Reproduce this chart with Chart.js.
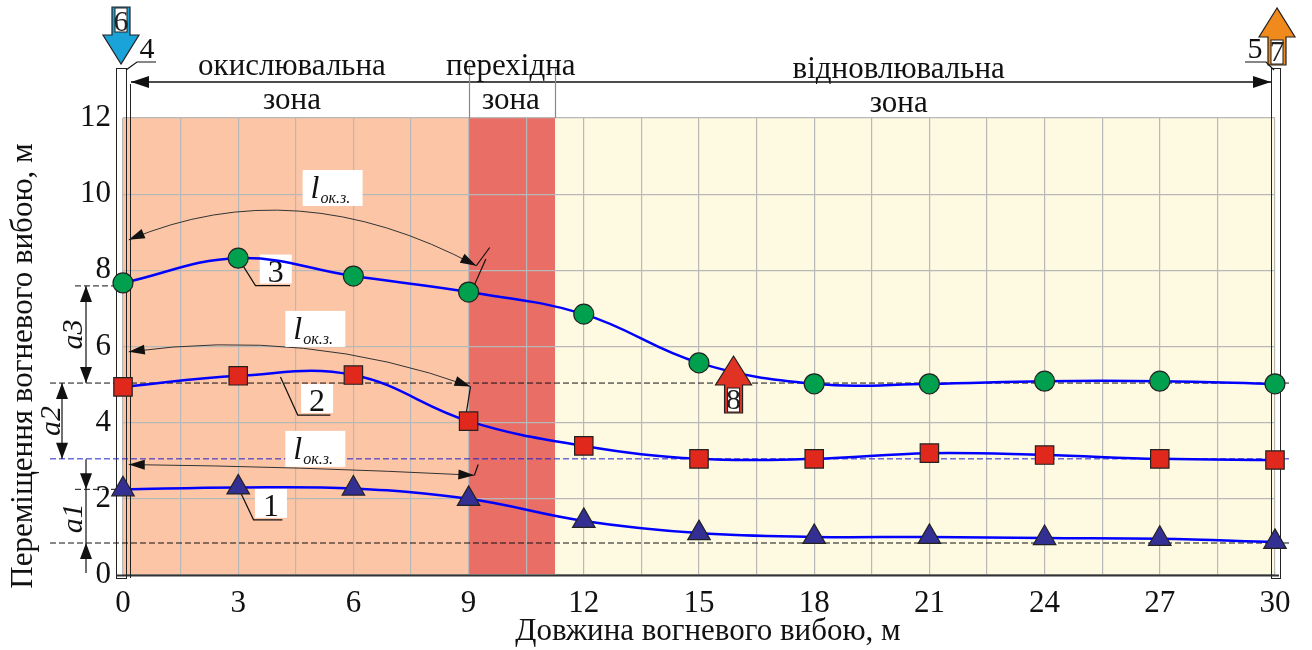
<!DOCTYPE html>
<html>
<head>
<meta charset="utf-8">
<script src="https://cdn.jsdelivr.net/npm/chart.js@4/dist/chart.umd.min.js"></script>
<style>
  html, body { margin: 0; padding: 0; background: #fff; }
  #wrap { width: 1312px; height: 650px; }
</style>
</head>
<body>
<div id="wrap"><canvas id="chart" width="1312" height="650"></canvas></div>
<script>
// Data
var xValues = [0, 3, 6, 9, 12, 15, 18, 21, 24, 27, 30];
var curve1 = [2.25, 2.3, 2.27, 2.0, 1.42, 1.1, 1.0, 1.0, 0.97, 0.95, 0.87];
var curve2 = [4.94, 5.23, 5.25, 4.04, 3.39, 3.05, 3.05, 3.2, 3.15, 3.05, 3.02];
var curve3 = [7.67, 8.32, 7.85, 7.43, 6.85, 5.57, 5.02, 5.02, 5.09, 5.09, 5.02];
var zoneBounds = [0, 9, 11.25, 30];
var zoneNames = [['окислювальна', 'зона'], ['перехідна', 'зона'], ['відновлювальна', 'зона']];
var zoneLabelX = [4.4, 10.1, 20.2];
var levelLines = [0.84, 3.05, 5.04];   // a1 / a2 / a3 boundaries
var xTitle = 'Довжина вогневого вибою, м';
var yTitle = 'Переміщення вогневого вибою, м';

var SERIF = '"Liberation Serif", "DejaVu Serif", serif';
var zoneColors = ['#fcc6a6', '#e86e66', '#fef9e1'];

function toPts(ys) {
  return xValues.map(function(x, i) { return { x: x, y: ys[i] }; });
}

function arrowHead(ctx, x, y, ang, len, w) {
  ctx.save();
  ctx.translate(x, y);
  ctx.rotate(ang);
  ctx.beginPath();
  ctx.moveTo(0, 0);
  ctx.lineTo(-len, -w / 2);
  ctx.lineTo(-len, w / 2);
  ctx.closePath();
  ctx.fill();
  ctx.restore();
}

function curveArrow(ctx, p0, c, p2) {
  ctx.strokeStyle = '#333';
  ctx.lineWidth = 1;
  ctx.beginPath();
  ctx.moveTo(p0[0], p0[1]);
  ctx.quadraticCurveTo(c[0], c[1], p2[0], p2[1]);
  ctx.stroke();
  ctx.fillStyle = '#111';
  arrowHead(ctx, p0[0], p0[1], Math.atan2(p0[1] - c[1], p0[0] - c[0]), 16, 10);
  arrowHead(ctx, p2[0], p2[1], Math.atan2(p2[1] - c[1], p2[0] - c[0]), 16, 10);
}

function lLabel(ctx, x, y) {
  ctx.fillStyle = '#fff';
  ctx.fillRect(x - 22, y - 28, 60, 36);
  ctx.fillStyle = '#111';
  ctx.textAlign = 'left';
  ctx.textBaseline = 'alphabetic';
  ctx.font = 'italic 32px ' + SERIF;
  ctx.fillText('l', x - 14, y);
  ctx.font = 'italic 16px ' + SERIF;
  ctx.fillText('ок.з.', x - 4, y + 5);
}

function numLabel(ctx, txt, from, corner, end) {
  ctx.strokeStyle = '#111';
  ctx.lineWidth = 1.2;
  ctx.beginPath();
  ctx.moveTo(from[0], from[1]);
  ctx.lineTo(corner[0], corner[1]);
  ctx.lineTo(end[0], end[1]);
  ctx.stroke();
  var cx = (corner[0] + end[0]) / 2 + 2;
  ctx.fillStyle = '#fff';
  ctx.fillRect(cx - 15, corner[1] - 31, 32, 29);
  ctx.fillStyle = '#111';
  ctx.font = '32px ' + SERIF;
  ctx.textAlign = 'center';
  ctx.textBaseline = 'alphabetic';
  ctx.fillText(txt, cx + 1, corner[1] - 4);
}

function blockArrow(ctx, cx, tipY, dir, fill, label) {
  // dir: 1 = points down, -1 = points up
  var headW = 36, headH = 29, shaftW = 18, shaftH = 28;
  var baseY = tipY - dir * headH;
  var endY = baseY - dir * shaftH;
  var sy = Math.min(baseY, endY);
  ctx.lineWidth = 1.2;
  ctx.strokeStyle = '#222';
  ctx.fillStyle = fill;
  ctx.beginPath();
  ctx.moveTo(cx, tipY);
  ctx.lineTo(cx - headW / 2, baseY);
  ctx.lineTo(cx - shaftW / 2, baseY);
  ctx.lineTo(cx - shaftW / 2, endY);
  ctx.lineTo(cx + shaftW / 2, endY);
  ctx.lineTo(cx + shaftW / 2, baseY);
  ctx.lineTo(cx + headW / 2, baseY);
  ctx.closePath();
  ctx.fill();
  ctx.stroke();
  ctx.fillStyle = '#fff';
  ctx.fillRect(cx - shaftW / 2 + 3, sy + (dir === 1 ? 1 : 3), shaftW - 6, shaftH - 4);
  ctx.lineWidth = 1;
  ctx.strokeRect(cx - shaftW / 2 + 3, sy + (dir === 1 ? 1 : 3), shaftW - 6, shaftH - 4);
  ctx.fillStyle = '#222';
  ctx.font = '30px ' + SERIF;
  ctx.textAlign = 'center';
  ctx.textBaseline = 'middle';
  ctx.fillText(label, cx, sy + shaftH / 2 + 2);
}

function vArrow(ctx, x, yTip, dir) {
  ctx.fillStyle = '#111';
  arrowHead(ctx, x, yTip, dir * Math.PI / 2, 16, 12);
}

var decorPlugin = {
  id: 'decor',
  beforeDraw: function(chart) {
    var ctx = chart.ctx, xs = chart.scales.x;
    var top = chart.chartArea.top, bottom = chart.chartArea.bottom;
    ctx.save();
    for (var i = 0; i < zoneColors.length; i++) {
      var a = xs.getPixelForValue(zoneBounds[i]), b = xs.getPixelForValue(zoneBounds[i + 1]);
      ctx.fillStyle = zoneColors[i];
      ctx.fillRect(a, top, b - a, bottom - top);
    }
    ctx.restore();
  },
  beforeDatasetsDraw: function(chart) {
    var ctx = chart.ctx, xs = chart.scales.x, ys = chart.scales.y;
    var px = function(v) { return xs.getPixelForValue(v); };
    var py = function(v) { return ys.getPixelForValue(v); };
    var left = chart.chartArea.left, right = chart.chartArea.right;
    var top = chart.chartArea.top, bottom = chart.chartArea.bottom;
    ctx.save();

    // bottom axis line
    ctx.strokeStyle = '#333';
    ctx.lineWidth = 2;
    ctx.beginPath(); ctx.moveTo(left - 6, bottom + 0.5); ctx.lineTo(right + 4, bottom + 0.5); ctx.stroke();

    // left & right boundary frames
    ctx.lineWidth = 1;
    ctx.strokeStyle = '#222';
    ctx.strokeRect(left - 6.5, 68.5, 10, bottom - 68 + 3);
    ctx.beginPath(); ctx.moveTo(left + 7.5, 84); ctx.lineTo(left + 7.5, bottom + 3); ctx.stroke();
    ctx.strokeRect(right - 3.5, 68.5, 9, bottom - 68 + 3);
    ctx.beginPath(); ctx.moveTo(right - 3.5, 84); ctx.lineTo(right - 3.5, bottom + 3); ctx.stroke();

    // zone dimension arrow
    var ay = 82;
    ctx.lineWidth = 1.5;
    ctx.strokeStyle = '#111';
    ctx.beginPath(); ctx.moveTo(left + 8, ay); ctx.lineTo(right - 4, ay); ctx.stroke();
    ctx.fillStyle = '#111';
    arrowHead(ctx, left + 8, ay, Math.PI, 18, 12);
    arrowHead(ctx, right - 4, ay, 0, 18, 12);
    ctx.strokeStyle = '#888';
    ctx.lineWidth = 1.2;
    [1, 2].forEach(function(k) {
      var x = Math.round(px(zoneBounds[k])) + 0.5;
      ctx.beginPath(); ctx.moveTo(x, 68); ctx.lineTo(x, top); ctx.stroke();
    });
    ctx.fillStyle = '#111';
    ctx.font = '31px ' + SERIF;
    ctx.textAlign = 'center';
    ctx.textBaseline = 'alphabetic';
    zoneNames.forEach(function(n, k) {
      var x = px(zoneLabelX[k]);
      ctx.fillText(n[0], x, k === 2 ? 78 : 75);
      ctx.fillText(n[1], x, k === 2 ? 112 : 109);
    });

    // level dashed lines
    ctx.strokeStyle = '#111';
    ctx.lineWidth = 1;
    ctx.setLineDash([6, 3]);
    ctx.beginPath(); ctx.moveTo(50, py(levelLines[2])); ctx.lineTo(right + 15, py(levelLines[2])); ctx.stroke();
    ctx.beginPath(); ctx.moveTo(50, py(levelLines[0])); ctx.lineTo(right + 15, py(levelLines[0])); ctx.stroke();
    ctx.beginPath(); ctx.moveTo(75, py(curve3[0]) + 3); ctx.lineTo(left, py(curve3[0]) + 3); ctx.stroke();
    ctx.beginPath(); ctx.moveTo(75, py(curve1[0])); ctx.lineTo(left, py(curve1[0])); ctx.stroke();
    ctx.strokeStyle = '#2222cc';
    ctx.beginPath(); ctx.moveTo(50, py(levelLines[1])); ctx.lineTo(right + 15, py(levelLines[1])); ctx.stroke();
    ctx.setLineDash([]);

    // dimension a3, a2, a1
    ctx.strokeStyle = '#111';
    ctx.lineWidth = 1.2;
    var y3a = py(curve3[0]) + 3, y3b = py(levelLines[2]);
    ctx.beginPath(); ctx.moveTo(86, y3a); ctx.lineTo(86, y3b); ctx.stroke();
    vArrow(ctx, 86, y3a, -1); vArrow(ctx, 86, y3b, 1);
    var y2a = py(levelLines[2]), y2b = py(levelLines[1]);
    ctx.beginPath(); ctx.moveTo(62, y2a); ctx.lineTo(62, y2b); ctx.stroke();
    vArrow(ctx, 62, y2a, -1); vArrow(ctx, 62, y2b, 1);
    var y1a = py(curve1[0]), y1b = py(levelLines[0]);
    ctx.beginPath(); ctx.moveTo(86, y1a - 30); ctx.lineTo(86, y1b + 30); ctx.stroke();
    vArrow(ctx, 86, y1a, 1); vArrow(ctx, 86, y1b, -1);
    ctx.fillStyle = '#111';
    ctx.font = 'italic 30px ' + SERIF;
    ctx.textAlign = 'center';
    ctx.textBaseline = 'middle';
    [['a3', 74, (y3a + y3b) / 2], ['a2', 52, (y2a + y2b) / 2], ['a1', 74, (y1a + y1b) / 2 + 2]].forEach(function(t) {
      ctx.save();
      ctx.translate(t[1], t[2]);
      ctx.rotate(-Math.PI / 2);
      ctx.fillText(t[0], 0, 0);
      ctx.restore();
    });

    // l_ок.з. curved arrows
    curveArrow(ctx, [px(0.15), py(8.8)], [px(4.5), py(10.65)], [px(9.2), py(8.12)]);
    curveArrow(ctx, [px(0.15), py(5.86)], [px(4.8), py(6.5)], [px(9.05), py(4.95)]);
    curveArrow(ctx, [px(0.15), py(2.9)], [px(4.6), py(2.85)], [px(9.15), py(2.62)]);
    ctx.strokeStyle = '#111';
    ctx.lineWidth = 1.2;
    [[9.2, 8.12, 9.55, 8.6], [9.05, 4.95, 8.9, 4.0], [9.15, 2.62, 9.25, 2.9], [9.1, 7.5, 9.45, 8.3]].forEach(function(s) {
      ctx.beginPath(); ctx.moveTo(px(s[0]), py(s[1])); ctx.lineTo(px(s[2]), py(s[3])); ctx.stroke();
    });
    lLabel(ctx, px(5.25), py(9.9));
    lLabel(ctx, px(4.8), py(6.2));
    lLabel(ctx, px(4.8), py(3.05));

    // curve number labels
    numLabel(ctx, '3', [px(3), py(curve3[1])], [px(3.45), py(7.6)], [px(4.35), py(7.6)]);
    numLabel(ctx, '2', [px(4.1), py(5.2)], [px(4.55), py(4.2)], [px(5.4), py(4.2)]);
    numLabel(ctx, '1', [px(3), py(curve1[1])], [px(3.4), py(1.45)], [px(4.15), py(1.45)]);

    ctx.restore();
  },
  afterDatasetsDraw: function(chart) {
    var ctx = chart.ctx, xs = chart.scales.x, ys = chart.scales.y;
    var left = chart.chartArea.left, right = chart.chartArea.right;
    var top = chart.chartArea.top, bottom = chart.chartArea.bottom;
    ctx.save();
    blockArrow(ctx, xs.getPixelForValue(15.9), ys.getPixelForValue(5.75), -1, '#e03324', '8');
    blockArrow(ctx, left - 2, 64, 1, '#1aa3d8', '6');
    blockArrow(ctx, right + 2, 8, -1, '#f08a1c', '7');
    // labels 4 and 5
    ctx.fillStyle = '#111';
    ctx.strokeStyle = '#111';
    ctx.lineWidth = 1.2;
    ctx.font = '30px ' + SERIF;
    ctx.textAlign = 'center';
    ctx.textBaseline = 'alphabetic';
    ctx.fillText('4', left + 24, 58);
    ctx.beginPath(); ctx.moveTo(left + 3, 70); ctx.lineTo(left + 14, 62); ctx.lineTo(left + 33, 62); ctx.stroke();
    ctx.fillText('5', right - 20, 58);
    ctx.beginPath(); ctx.moveTo(right - 30, 62); ctx.lineTo(right - 9, 62); ctx.lineTo(right - 1, 70); ctx.stroke();

    // axis titles
    ctx.font = '31px ' + SERIF;
    ctx.textAlign = 'center';
    ctx.textBaseline = 'middle';
    ctx.fillText(xTitle, 708, 632);
    ctx.save();
    ctx.translate(24, 366);
    ctx.rotate(-Math.PI / 2);
    ctx.fillText(yTitle, 0, 0);
    ctx.restore();
    ctx.restore();
  }
};

function lineSet(data, style, radius, color) {
  return {
    data: toPts(data),
    borderColor: '#0000ff',
    borderWidth: 2.5,
    tension: 0.4,
    clip: false,
    pointStyle: style,
    pointRadius: radius,
    pointBackgroundColor: color,
    pointBorderColor: '#222',
    pointBorderWidth: 1.2
  };
}

new Chart(document.getElementById('chart'), {
  type: 'line',
  data: {
    datasets: [
      lineSet(curve1, 'triangle', 13, '#342f92'),
      lineSet(curve2, 'rect', 13, '#e0281c'),
      lineSet(curve3, 'circle', 10, '#00a04e')
    ]
  },
  options: {
    responsive: false,
    animation: false,
    layout: { padding: { left: 0, right: 37, top: 118, bottom: 0 } },
    plugins: { legend: { display: false }, tooltip: { enabled: false } },
    scales: {
      x: {
        type: 'linear', min: 0, max: 30,
        afterFit: function(s) { s.height = 75; },
        afterBuildTicks: function(s) {
          var t = [];
          for (var v = 0; v <= 30; v += 1.5) t.push({ value: v });
          s.ticks = t;
        },
        border: { display: false },
        grid: { color: '#b8b8b8', lineWidth: 1.2, drawTicks: false },
        ticks: {
          color: '#111', padding: 10, maxRotation: 0, autoSkip: false,
          font: { family: SERIF, size: 31 },
          callback: function(v) { return v % 3 === 0 ? String(v) : ''; }
        }
      },
      y: {
        type: 'linear', min: 0, max: 12,
        afterFit: function(s) { s.width = 123; },
        border: { display: false },
        grid: { color: '#b8b8b8', lineWidth: 1.2, drawTicks: false },
        ticks: { stepSize: 2, color: '#111', padding: 12, font: { family: SERIF, size: 31 } }
      }
    }
  },
  plugins: [decorPlugin]
});
</script>
</body>
</html>
